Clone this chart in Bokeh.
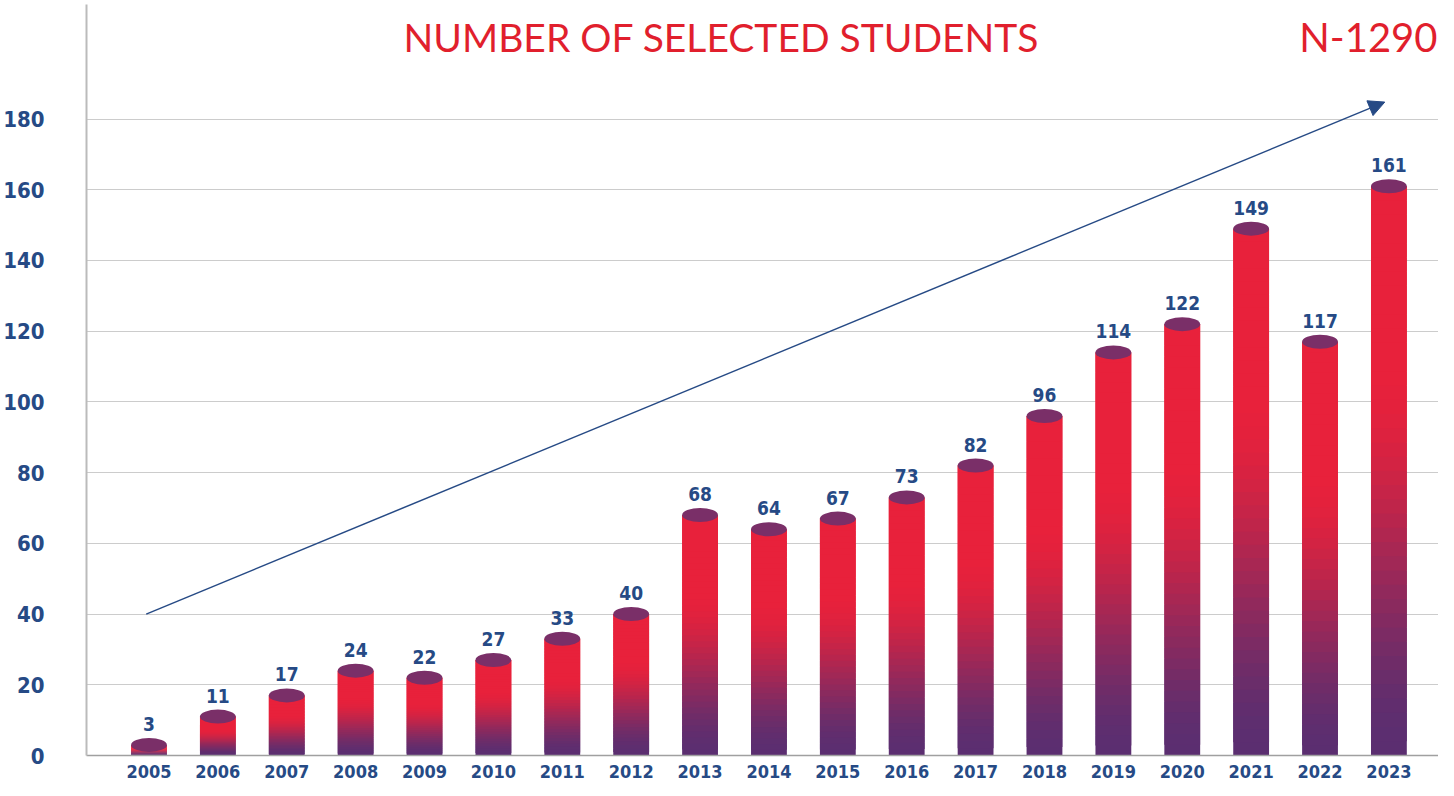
from bokeh.plotting import figure
from bokeh.models import ColumnDataSource, FixedTicker, Label, Arrow, NormalHead, Range1d
from bokeh.core.properties import value
from bokeh.embed import file_html
from bokeh.resources import INLINE

# ---------------- data ----------------
years = list(range(2005, 2024))
students = [3, 11, 17, 24, 22, 27, 33, 40, 68, 64, 67, 73, 82, 96, 114, 122, 149, 117, 161]
y_ticks = [0, 20, 40, 60, 80, 100, 120, 140, 160, 180]
title_text = "NUMBER OF SELECTED STUDENTS"
total_text = "N-1290"
trend_start = [2004.96, 40]
trend_end = [2022.94, 184.8]

# ---------------- style ----------------
RED = (232, 33, 59)
PURPLE = (91, 46, 112)
CAP = "#7A2F68"
NAVY = "#264A85"
TITLE_RED = "#E11F2D"
NARROW = "DejaVu Sans Condensed"
BAR_W = 0.52
N_SLICES = 40


def lerp_color(f):
    t = min(max(f / 0.68, 0.0), 1.0)
    t = t * t * (3 - 2 * t)
    r = [int(round(PURPLE[i] + (RED[i] - PURPLE[i]) * t)) for i in range(3)]
    return "#%02x%02x%02x" % tuple(r)


# gradient slices built from the data values (each slice overlaps the next one)
left, right, bottom, top, color = [], [], [], [], []
for yr, v in zip(years, students):
    for k in range(N_SLICES):
        b = v * k / N_SLICES
        tp = v * (k + 2) / N_SLICES
        left.append(yr - BAR_W / 2)
        right.append(yr + BAR_W / 2)
        bottom.append(b)
        top.append(min(v, tp))
        color.append(lerp_color((k + 0.5) / N_SLICES))

slices = ColumnDataSource(dict(left=left, right=right, bottom=bottom, top=top, color=color))
tops = ColumnDataSource(dict(x=years, y=students, label=[str(s) for s in students]))

p = figure(width=1438, height=780, output_backend="svg", toolbar_location=None,
           x_range=Range1d(2004.093, 2023.72), y_range=Range1d(0, 212.4),
           min_border_left=75, min_border_right=0, min_border_top=4, min_border_bottom=0)
p.outline_line_color = None
p.background_fill_color = "white"

p.quad(left="left", right="right", bottom="bottom", top="top", fill_color="color",
       line_color=None, source=slices)
p.ellipse(x="x", y="y", width=BAR_W, height=14, height_units="screen",
          fill_color=CAP, line_color=None, source=tops)

p.text(x="x", y="y", text="label", source=tops, y_offset=-21,
       text_align="center", text_baseline="alphabetic",
       text_font=value(NARROW), text_font_style="bold", text_font_size="19px",
       text_color=NAVY)

arrow = Arrow(end=NormalHead(size=16, fill_color=NAVY, line_color=NAVY),
              x_start=trend_start[0], y_start=trend_start[1],
              x_end=trend_end[0], y_end=trend_end[1],
              line_color=NAVY, line_width=1.5)
p.add_layout(arrow)

p.add_layout(Label(x=2013.31, y=203.2, text=title_text, text_align="center",
                   text_baseline="middle", text_font="Lato", text_font_size="39px",
                   text_color=TITLE_RED))
p.add_layout(Label(x=2023.72, y=203.2, text=total_text, text_align="right",
                   text_baseline="middle", text_font="Lato", text_font_size="40px",
                   text_color=TITLE_RED, x_offset=-1))

# axes
p.xaxis.ticker = FixedTicker(ticks=years)
p.xaxis.major_label_overrides = {y: str(y) for y in years}
p.yaxis.ticker = FixedTicker(ticks=y_ticks)
for ax in (p.xaxis, p.yaxis):
    ax.major_tick_line_color = None
    ax.minor_tick_line_color = None
    ax.major_label_text_color = NAVY
    ax.major_label_text_font = NARROW
    ax.major_label_text_font_style = "bold"
p.xaxis.major_label_text_font_size = "18px"
p.yaxis.major_label_text_font_size = "22px"
p.xaxis.major_label_standoff = 3
p.yaxis.major_label_standoff = 36
p.xaxis.axis_line_color = "#A0A0A0"
p.xaxis.axis_line_width = 1.5
p.yaxis.axis_line_color = "#BBBBBB"
p.yaxis.axis_line_width = 2

p.xgrid.grid_line_color = None
p.ygrid.grid_line_color = "#CCCCCC"
p.ygrid.grid_line_width = 1

open("out.html", "w").write(file_html(p, INLINE))
